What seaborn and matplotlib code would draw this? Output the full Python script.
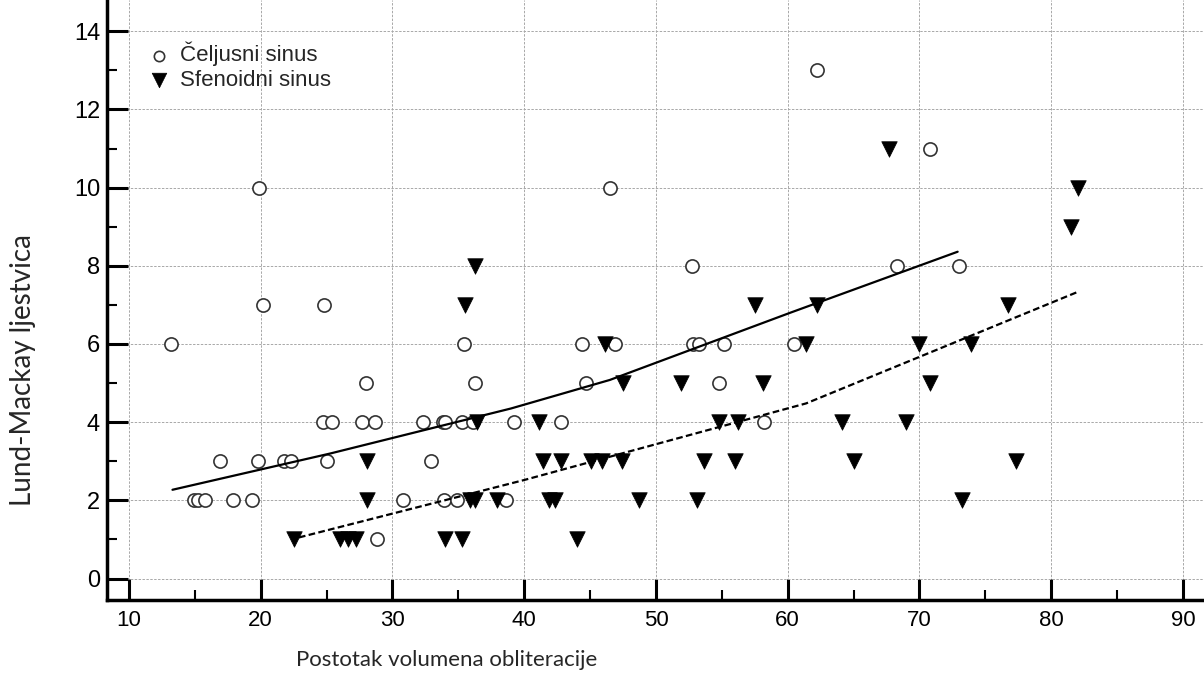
import matplotlib
matplotlib.use("Agg")
import matplotlib.pyplot as plt
import seaborn as sns
import pandas as pd
from matplotlib.ticker import MultipleLocator

# Čeljusni sinus (open circles)
cel_x = [13.2, 14.9, 15.2, 15.8, 16.9, 17.9, 19.3, 19.8, 19.9, 20.2, 21.8, 22.3,
         24.7, 24.8, 25.0, 25.4, 27.65, 28.0, 28.66, 28.86, 30.8, 32.3, 32.95,
         33.85, 33.98, 33.9, 34.9, 35.3, 35.4, 36.1, 36.25, 38.6, 39.2, 42.8,
         44.4, 44.7, 46.5, 46.9, 52.7, 52.8, 53.3, 54.8, 55.2, 58.2, 60.5, 62.2,
         68.3, 70.8, 73.0]
cel_y = [6, 2, 2, 2, 3, 2, 2, 3, 10, 7, 3, 3,
         4, 7, 3, 4, 4, 5, 4, 1, 2, 4, 3,
         4, 4, 2, 2, 4, 6, 4, 5, 2, 4, 4,
         6, 5, 10, 6, 8, 6, 6, 5, 6, 4, 6, 13,
         8, 11, 8]

# Sfenoidni sinus (filled triangles)
sfe_x = [22.5, 26.0, 26.6, 27.2, 34.0, 35.3, 44.0,
         28.1, 35.9, 36.3, 37.9, 41.9, 42.3, 48.7, 53.1, 73.2,
         28.1, 41.4, 42.8, 45.1, 45.9, 47.4, 53.65, 56.0, 65.0, 77.3,
         36.4, 41.1, 54.8, 56.2, 64.1, 68.95,
         47.5, 51.9, 58.1, 70.8,
         46.1, 61.4, 70.0, 73.9,
         35.5, 57.5, 62.25, 76.7,
         36.25, 81.5, 82.0, 67.7]
sfe_y = [1, 1, 1, 1, 1, 1, 1,
         2, 2, 2, 2, 2, 2, 2, 2, 2,
         3, 3, 3, 3, 3, 3, 3, 3, 3, 3,
         4, 4, 4, 4, 4, 4,
         5, 5, 5, 5,
         6, 6, 6, 6,
         7, 7, 7, 7,
         8, 9, 10, 11]

# fitted trend lines
fit_cel_x = [13.3, 25.3, 39.0, 46.5, 60.2, 72.9]
fit_cel_y = [2.27, 3.2, 4.35, 5.08, 6.8, 8.36]
fit_sfe_x = [22.9, 40.0, 61.4, 82.0]
fit_sfe_y = [1.05, 2.52, 4.48, 7.33]

cel = pd.DataFrame({"x": cel_x, "y": cel_y})
sfe = pd.DataFrame({"x": sfe_x, "y": sfe_y})

sns.set_style("white")
plt.rcParams["font.family"] = ["Liberation Sans", "DejaVu Sans"]

fig = plt.figure(figsize=(12.04, 6.82), dpi=100)
ax = fig.add_axes([107 / 1204, 82 / 682, 1097 / 1204, 600 / 682])

ax.grid(True, which="major", color="#a8a8a8", linestyle=(0, (2.5, 1.5)), linewidth=0.7)
ax.set_axisbelow(True)

sns.scatterplot(data=cel, x="x", y="y", ax=ax, marker="o", s=90,
                facecolor="white", edgecolor="#333333", linewidth=1.2,
                label="Čeljusni sinus", zorder=3)
sns.scatterplot(data=sfe, x="x", y="y", ax=ax, marker="v", s=125,
                color="black", edgecolor="black", linewidth=0.5,
                label="Sfenoidni sinus", zorder=4)

sns.lineplot(x=fit_cel_x, y=fit_cel_y, ax=ax, color="black", linewidth=1.6,
             estimator=None, sort=False, zorder=5)
sns.lineplot(x=fit_sfe_x, y=fit_sfe_y, ax=ax, color="black", linewidth=1.6,
             linestyle=(0, (3, 1.5)), estimator=None, sort=False, zorder=5)

ax.set_xlim(8.33, 91.6)
ax.set_ylim(-0.55, 14.8)
ax.xaxis.set_major_locator(MultipleLocator(10))
ax.xaxis.set_minor_locator(MultipleLocator(5))
ax.yaxis.set_major_locator(MultipleLocator(2))
ax.yaxis.set_minor_locator(MultipleLocator(1))
ax.tick_params(which="both", bottom=True, left=True, top=False, right=False)
ax.tick_params(which="major", direction="in", length=15, width=2.2,
               labelsize=17, pad=5, color="black", labelcolor="black",
               labelfontfamily="Liberation Sans")
ax.tick_params(which="minor", direction="in", length=7, width=1.5, color="black")
ax.tick_params(axis="x", which="major", pad=7, labelsize=16)

for side in ["top", "right"]:
    ax.spines[side].set_visible(False)
for side in ["left", "bottom"]:
    ax.spines[side].set_linewidth(2.5)
    ax.spines[side].set_color("black")

ax.set_xlabel("")
ax.set_ylabel("")
fig.text(447 / 1204, 1 - 660 / 682, "Postotak volumena obliteracije",
         ha="center", va="center", fontsize=16, family=["Lato", "DejaVu Sans"])
fig.text(23 / 1204, 1 - 370 / 682, "Lund-Mackay ljestvica", rotation=90,
         ha="center", va="center", fontsize=20, family=["Lato", "DejaVu Sans"])

leg = ax.legend(loc="upper left", bbox_to_anchor=(139 / 1204, 1 - 33 / 682),
                bbox_transform=fig.transFigure, frameon=False, fontsize=16,
                handletextpad=0.45, labelspacing=0.15, borderaxespad=0,
                handlelength=1.0)
leg.legend_handles[0].set_sizes([55])
leg.legend_handles[1].set_sizes([110])

plt.savefig("out.png", dpi=100)
